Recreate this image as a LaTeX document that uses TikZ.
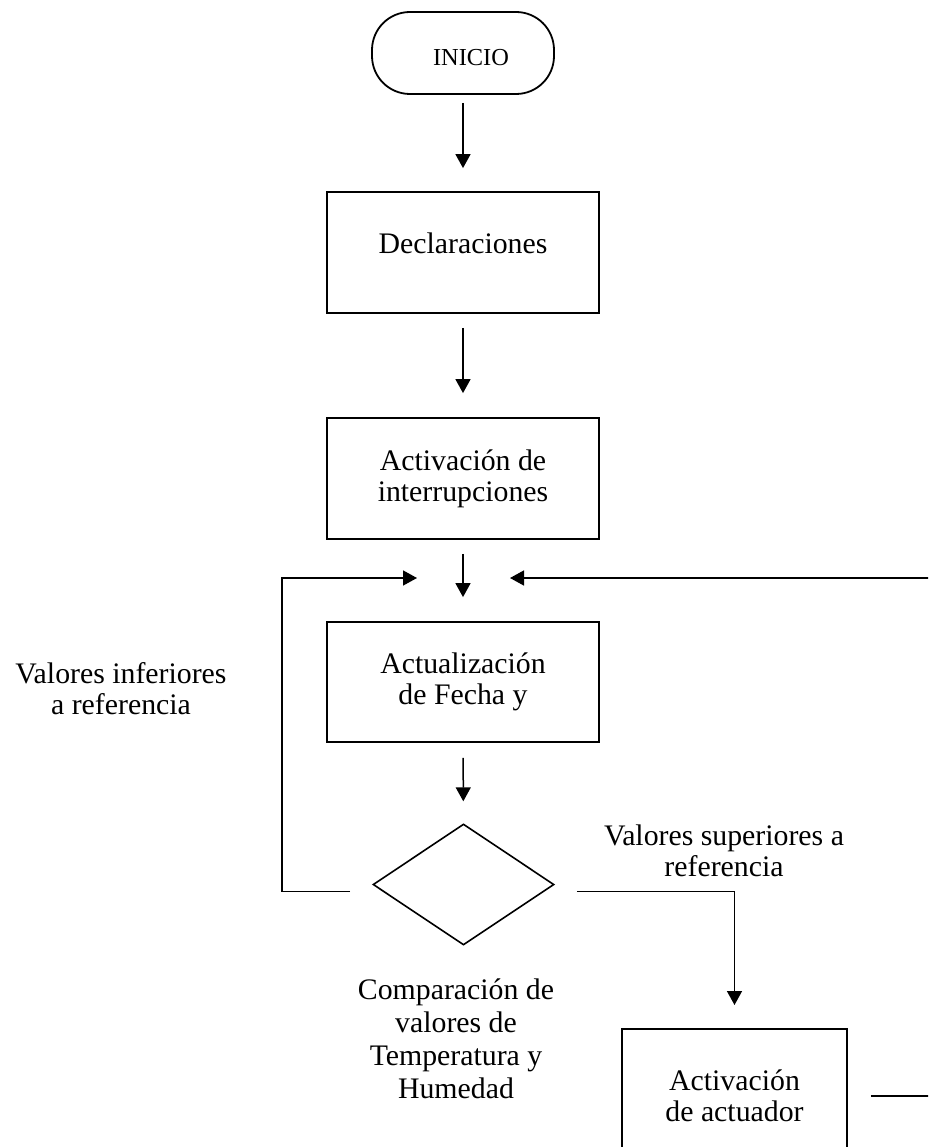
\documentclass[tikz,border=0pt]{standalone}
\usepackage{fontspec}
\setmainfont{Liberation Serif}
\usepackage{tikz}
\usetikzlibrary{shapes.geometric,arrows.meta}

\begin{document}
\begin{tikzpicture} [x=1pt,y=-1pt,
  caja/.style= {shape=rectangle,draw,line width=1.8pt,inner sep=0,minimum width=272pt,minimum height=121pt,align=center,font=\fontsize{29.8}{31}\selectfont},
  texto/.style= {align=center,inner sep=0,font=\fontsize{29.8}{31}\selectfont},
  flecha/.style= {line width=1.5pt,-{Triangle[width=15pt,length=14pt]}}]

\path[use as bounding box] (0,0) rectangle (928,1147);
\clip (0,0) rectangle (928,1147);

\node[caja,rounded corners=38pt,minimum width=182pt,minimum height=82pt,font=\fontsize{24.4}{26}\selectfont,text height=26pt,text depth=0pt] (inicio) at (463,53) {\hspace*{16pt}INICIO};
\node[caja,text depth=18pt] (decl) at (463,252.5) {Declaraciones};
\node[caja] (interr) at (463,478.5) {Activación de\\interrupciones};
\node[caja,minimum height=120pt] (actual) at (463,682) {Actualización\\de Fecha y};
\node[shape=diamond,draw,line width=1.6pt,inner sep=0,minimum width=181pt,minimum height=121pt] (comp) at (463.5,884.5) {};
\node[caja,anchor=north,minimum width=225pt,minimum height=134pt] (actuador) at (734.5,1028) {Activación\\de actuador};
\coordinate (union) at (463,578);

% rotulos
\node[texto] (inferior) at (121,689) {Valores inferiores\\a referencia};
\node[texto] (superior) at (724,851) {Valores superiores a\\referencia};
\node[texto,font=\fontsize{29.8}{33}\selectfont] (comptxt) at (456,1039) {Comparación de\\valores de\\Temperatura y\\Humedad};

\draw[flecha,shorten <=8pt,shorten >=23pt] (inicio) -- (decl);
\draw[flecha,shorten <=14pt,shorten >=24pt] (decl) -- (interr);
\draw[flecha,shorten <=14pt,shorten >=24pt] (interr) -- (actual);
\draw[flecha,shorten <=15pt,shorten >=22pt] (actual) -- (comp);
\draw[flecha] ([shift={(-22pt,-7pt)}]comp.west) -- ++(-68pt,0pt) |- ([xshift=-46pt]union);
\draw[flecha] ([shift={(22pt,-7pt)}]comp.east) -| ([yshift=23pt]actuador.north);
\draw[flecha] ([xshift=23pt]actuador.east) -- ++(80pt,0pt) |- ([xshift=47pt]union);
\end{tikzpicture}
\end{document}
